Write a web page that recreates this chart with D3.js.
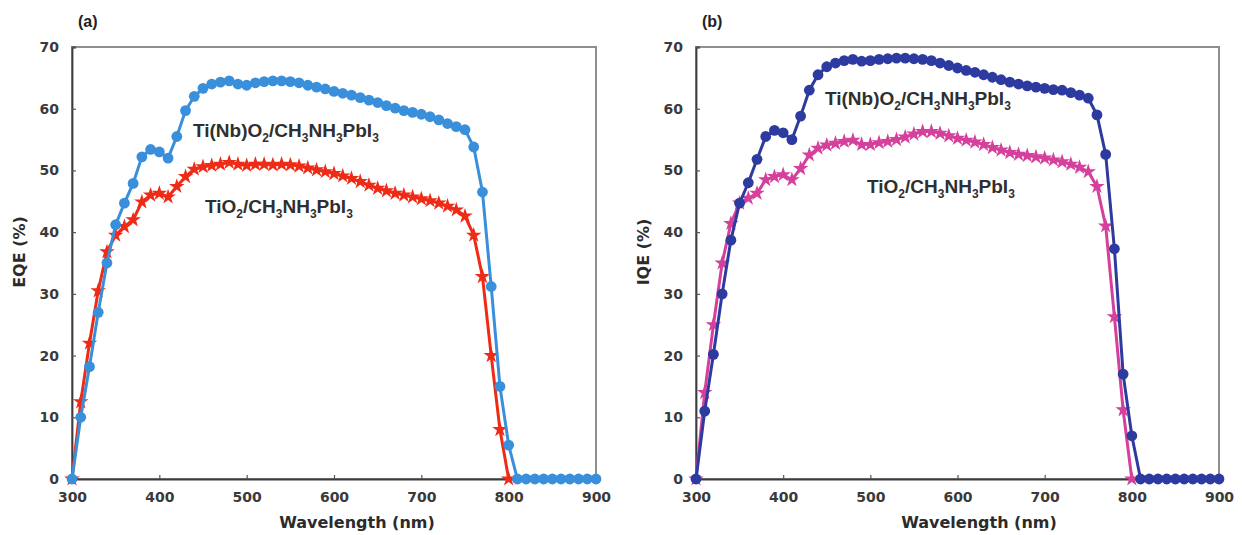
<!DOCTYPE html>
<html>
<head>
<meta charset="utf-8">
<script src="https://cdn.jsdelivr.net/npm/d3@7"></script>
<style>
  body { margin: 0; background: #fff; }
  svg { display: block; }
  .tick text { font-family: "DejaVu Sans", sans-serif; font-weight: bold; font-size: 14px; fill: #3a3a3a; }
</style>
</head>
<body>
<div id="chart"></div>
<script>
const width = 1242;
const height = 535;

// Wavelengths (nm)
const wavelength = [300, 310, 320, 330, 340, 350, 360, 370, 380, 390, 400, 410, 420, 430, 440, 450,
  460, 470, 480, 490, 500, 510, 520, 530, 540, 550, 560, 570, 580, 590, 600, 610, 620, 630, 640, 650,
  660, 670, 680, 690, 700, 710, 720, 730, 740, 750, 760, 770, 780, 790, 800,
  810, 820, 830, 840, 850, 860, 870, 880, 890, 900];
const wavelengthTiO2 = [300, 310, 320, 330, 340, 350, 360, 370, 380, 390, 400, 410, 420, 430, 440, 450,
  460, 470, 480, 490, 500, 510, 520, 530, 540, 550, 560, 570, 580, 590, 600, 610, 620, 630, 640, 650,
  660, 670, 680, 690, 700, 710, 720, 730, 740, 750, 760, 770, 780, 790, 800];

// (a) EQE
const eqeNb = [0, 10, 18.2, 27, 35, 41.2, 44.7, 47.9, 52.2, 53.4, 53, 52, 55.5, 59.7, 62, 63.3,
  64, 64.3, 64.5, 64, 63.8, 64.2, 64.4, 64.5, 64.5, 64.4, 64.2, 63.8, 63.5, 63.2, 62.8, 62.5, 62.2, 61.8, 61.4, 61,
  60.5, 60.1, 59.7, 59.4, 59.1, 58.7, 58.2, 57.6, 57.1, 56.6, 53.8, 46.5, 31.2, 15, 5.5,
  0, 0, 0, 0, 0, 0, 0, 0, 0, 0];
const eqeTiO2 = [0, 12.5, 22, 30.5, 36.8, 39.5, 40.9, 42, 44.9, 46, 46.3, 45.7, 47.4, 49, 50.2, 50.6,
  50.8, 51, 51.3, 51, 50.8, 51, 51, 50.9, 51, 50.9, 50.7, 50.4, 50.1, 49.8, 49.5, 49.1, 48.7, 48.2, 47.6, 47.1,
  46.7, 46.3, 46, 45.7, 45.4, 45.1, 44.7, 44.2, 43.6, 42.6, 39.5, 32.8, 20, 8, 0];

// (b) IQE
const iqeNb = [0, 11, 20.2, 30, 38.7, 44.7, 48, 51.8, 55.5, 56.5, 56.1, 55, 58.8, 63, 65.5, 66.8,
  67.4, 67.8, 68, 67.7, 67.8, 68, 68.1, 68.2, 68.2, 68.1, 68, 67.8, 67.4, 67, 66.6, 66.2, 65.9, 65.5, 65.1, 64.7,
  64.3, 64, 63.7, 63.5, 63.3, 63.1, 63, 62.6, 62.2, 61.7, 59, 52.6, 37.3, 17, 7,
  0, 0, 0, 0, 0, 0, 0, 0, 0, 0];
const iqeTiO2 = [0, 14, 25, 35, 41.4, 44.7, 45.5, 46.3, 48.5, 49, 49.3, 48.5, 50.3, 52.5, 53.6, 54.1,
  54.4, 54.7, 54.9, 54.2, 54.2, 54.5, 54.7, 55, 55.4, 55.9, 56.3, 56.3, 56, 55.6, 55.2, 54.9, 54.6, 54.2, 53.7, 53.3,
  52.9, 52.6, 52.4, 52.2, 52, 51.7, 51.4, 51, 50.5, 49.8, 47.4, 41, 26.3, 11.2, 0];

const xTicks = [300, 400, 500, 600, 700, 800, 900];
const yTicks = [0, 10, 20, 30, 40, 50, 60, 70];

const svg = d3.select("#chart")
    .append("svg")
    .attr("width", width)
    .attr("height", height);

function drawPanel(p) {
    const x = d3.scaleLinear().domain([300, 900]).range([p.left, p.right]);
    const y = d3.scaleLinear().domain([0, 70]).range([479, 47]);
    const g = svg.append("g");

    // plot frame (top/right grey)
    g.append("rect")
        .attr("x", p.left).attr("y", 47)
        .attr("width", p.right - p.left).attr("height", 479 - 47)
        .attr("fill", "none")
        .attr("stroke", "#8f8f8f")
        .attr("stroke-width", 2);

    const xAxis = g.append("g")
        .attr("transform", `translate(0,479)`)
        .call(d3.axisBottom(x).tickValues(xTicks).tickSize(-4).tickPadding(13).tickFormat(d3.format("d")));
    const yAxis = g.append("g")
        .attr("transform", `translate(${p.left},0)`)
        .call(d3.axisLeft(y).tickValues(yTicks).tickSize(-4).tickPadding(13).tickFormat(d3.format("d")));
    [xAxis, yAxis].forEach(a => {
        a.select(".domain").attr("stroke", "#3c3c3c").attr("stroke-width", 1.8);
        a.selectAll(".tick line").attr("stroke", "#555").attr("stroke-width", 1.2);
    });

    // axis titles
    g.append("text")
        .attr("x", p.xTitleX).attr("y", 528)
        .attr("text-anchor", "middle")
        .attr("font-family", "DejaVu Sans, sans-serif")
        .attr("font-weight", "bold")
        .attr("font-size", 16)
        .attr("fill", "#2b2b2b")
        .text("Wavelength (nm)");
    g.append("text")
        .attr("transform", `translate(${p.left - 47},252) rotate(-90)`)
        .attr("text-anchor", "middle")
        .attr("font-family", "DejaVu Sans, sans-serif")
        .attr("font-weight", "bold")
        .attr("font-size", 16)
        .attr("fill", "#2b2b2b")
        .text(p.yTitle);

    // panel letter
    g.append("text")
        .attr("x", p.left + 6).attr("y", 27)
        .attr("font-family", "Liberation Sans, Arial, sans-serif")
        .attr("font-weight", "bold")
        .attr("font-size", 16)
        .attr("fill", "#222")
        .text(p.letter);

    const line = d3.line().x(d => x(d[0])).y(d => y(d[1]));

    // TiO2 series (stars)
    const tiData = wavelengthTiO2.map((w, i) => [w, p.tiVals[i]]);
    g.append("path")
        .datum(tiData)
        .attr("d", line)
        .attr("fill", "none")
        .attr("stroke", p.tiColor)
        .attr("stroke-width", 3);
    g.selectAll(".ti")
        .data(tiData)
        .enter()
        .append("path")
        .attr("class", "ti")
        .attr("transform", d => `translate(${x(d[0])},${y(d[1])})`)
        .attr("d", d3.symbol().type(d3.symbolStar).size(75))
        .attr("fill", p.tiColor);

    // Ti(Nb)O2 series (circles)
    const nbData = wavelength.map((w, i) => [w, p.nbVals[i]]);
    g.append("path")
        .datum(nbData)
        .attr("d", line)
        .attr("fill", "none")
        .attr("stroke", p.nbColor)
        .attr("stroke-width", 3);
    g.selectAll(".nb")
        .data(nbData)
        .enter()
        .append("circle")
        .attr("class", "nb")
        .attr("cx", d => x(d[0]))
        .attr("cy", d => y(d[1]))
        .attr("r", 5.4)
        .attr("fill", p.nbColor);

    // curve labels
    function label(tx, ty, parts) {
        const t = g.append("text")
            .attr("x", tx).attr("y", ty)
            .attr("font-family", "Liberation Sans, Arial, sans-serif")
            .attr("font-weight", "bold")
            .attr("font-size", 19)
            .attr("fill", "#2f2f2f");
        parts.forEach(s => {
            if (s.sub) {
                t.append("tspan").attr("font-size", 12).attr("dy", 5).text(s.sub);
            } else {
                t.append("tspan").attr("dy", s.first ? 0 : -5).text(s.t);
            }
        });
    }
    label(p.nbLabel[0], p.nbLabel[1], [{t: "Ti(Nb)O", first: true}, {sub: "2"}, {t: "/CH"}, {sub: "3"}, {t: "NH"}, {sub: "3"}, {t: "PbI"}, {sub: "3"}]);
    label(p.tiLabel[0], p.tiLabel[1], [{t: "TiO", first: true}, {sub: "2"}, {t: "/CH"}, {sub: "3"}, {t: "NH"}, {sub: "3"}, {t: "PbI"}, {sub: "3"}]);
}

drawPanel({
    left: 72, right: 596, letter: "(a)", yTitle: "EQE (%)", xTitleX: 357,
    nbVals: eqeNb, tiVals: eqeTiO2, nbColor: "#3a8fdb", tiColor: "#ee2b17",
    nbLabel: [193, 137], tiLabel: [205, 213]
});
drawPanel({
    left: 696, right: 1219, letter: "(b)", yTitle: "IQE (%)", xTitleX: 979,
    nbVals: iqeNb, tiVals: iqeTiO2, nbColor: "#2d3a9f", tiColor: "#d4409c",
    nbLabel: [825, 105], tiLabel: [867, 193]
});
</script>
</body>
</html>
